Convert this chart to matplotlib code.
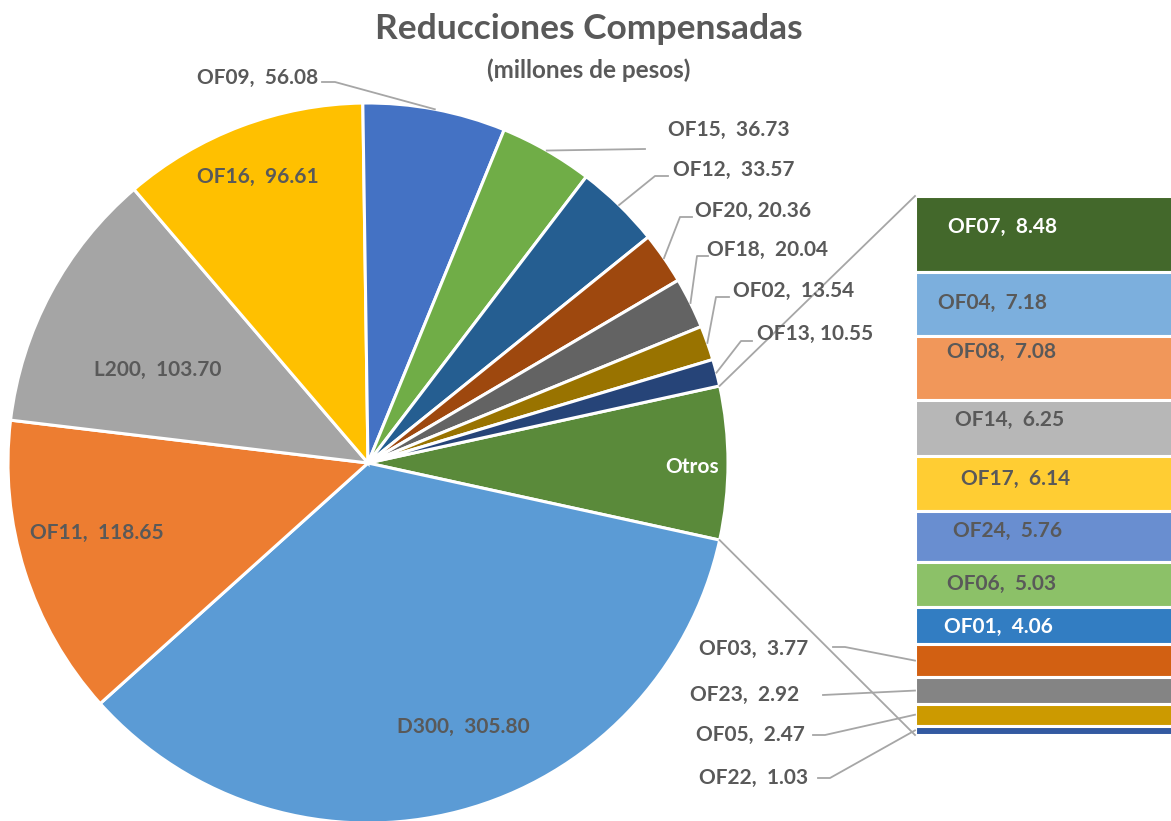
import matplotlib
matplotlib.use("Agg")
import matplotlib.pyplot as plt
import numpy as np

plt.rcParams["font.family"] = ["Lato", "DejaVu Sans"]

# datos (millones de pesos)
pie_names = ["D300", "OF11", "L200", "OF16", "OF09", "OF15", "OF12", "OF20", "OF18", "OF02", "OF13"]
pie_values = [305.80, 118.65, 103.70, 96.61, 56.08, 36.73, 33.57, 20.36, 20.04, 13.54, 10.55]
pie_colors = ["#5B9BD5", "#ED7D31", "#A5A5A5", "#FFC000", "#4472C4", "#70AD47",
              "#255E91", "#9E480E", "#636363", "#997300", "#264478"]

bar_names = ["OF07", "OF04", "OF08", "OF14", "OF17", "OF24", "OF06", "OF01", "OF03", "OF23", "OF05", "OF22"]
bar_values = [8.48, 7.18, 7.08, 6.25, 6.14, 5.76, 5.03, 4.06, 3.77, 2.92, 2.47, 1.03]
bar_colors = ["#43682B", "#7CAFDD", "#F1975A", "#B7B7B7", "#FFCD33", "#698ED0",
              "#8CC168", "#327DC2", "#D26012", "#848484", "#CC9A00", "#335AA1"]

otros = sum(bar_values)
otros_color = "#5A8A3A"

W, H = 1171, 821
GRAY = "#595959"
LINE = "#A6A6A6"

fig = plt.figure(figsize=(W / 100, H / 100), dpi=100)

# barra de "Otros" (eje aparte, debajo del eje principal)
bx0, by0, by1 = 915, 196, 735
ax2 = fig.add_axes([bx0 / W, (H - by1) / H, 1 - bx0 / W + 0.1, (by1 - by0) / H])
bottoms = np.concatenate([[0], np.cumsum(bar_values)[:-1]])
ax2.bar(0, bar_values, bottom=bottoms, width=1, color=bar_colors,
        edgecolor="white", linewidth=2.2)
ax2.set_xlim(-0.5, 0.5)
ax2.set_ylim(otros, 0)
ax2.axis("off")

ax = fig.add_axes([0, 0, 1, 1])
ax.set_zorder(3)

cx, cy, R = 368, H - 463, 360
vals = [otros] + pie_values
cols = [otros_color] + pie_colors
total = sum(vals)
start = otros / total * 180
wedges, _ = ax.pie(vals, colors=cols, startangle=start, counterclock=False,
                   center=(cx, cy), radius=R,
                   wedgeprops=dict(edgecolor="white", linewidth=2.2))
ax.set_xlim(0, W)
ax.set_ylim(0, H)
ax.set_aspect("equal")
ax.axis("off")


def to_main(axx, pt):
    return ax.transData.inverted().transform(axx.transData.transform(pt))


def wedge_pt(name, k=1.0):
    w = wedges[1 + pie_names.index(name)]
    a = np.deg2rad((w.theta1 + w.theta2) / 2)
    return cx + R * k * np.cos(a), cy + R * k * np.sin(a)


# lineas de conexion pastel -> barra
for ang, yb in [(start, 0), (-start, otros)]:
    a = np.deg2rad(ang)
    p0 = (cx + R * np.cos(a), cy + R * np.sin(a))
    p1 = to_main(ax2, (-0.5, yb))
    ax.plot([p0[0], p1[0]], [p0[1], p1[1]], color=LINE, lw=1.3, zorder=1)

txt = dict(fontsize=15, fontweight="bold", va="center", zorder=5)

# etiquetas dentro del pastel
ax.text(463, H - 727, "D300,  305.80", ha="center", color=GRAY, **txt)
ax.text(97, H - 533, "OF11,  118.65", ha="center", color=GRAY, **txt)
ax.text(158, H - 370, "L200,  103.70", ha="center", color=GRAY, **txt)
ax.text(258, H - 177, "OF16,  96.61", ha="center", color=GRAY, **txt)
ax.text(692, H - 467, "Otros", ha="center", color="white", **txt)

# etiquetas externas con guia: (nombre, texto, x, y, extremo guia, codo)
outer = [
    ("OF09", "OF09,  56.08", 197, 78, (322, 82), (335, 82)),
    ("OF15", "OF15,  36.73", 668, 130, (645, 149), None),
    ("OF12", "OF12,  33.57", 673, 170, (668, 176), (655, 176)),
    ("OF20", "OF20, 20.36", 695, 211, (692, 217), (680, 217)),
    ("OF18", "OF18,  20.04", 707, 250, (708, 256), (697, 256)),
    ("OF02", "OF02,  13.54", 733, 291, (729, 297), (716, 297)),
    ("OF13", "OF13, 10.55", 757, 334, (752, 341), (741, 341)),
]
for name, s, x, y, e, c in outer:
    ax.text(x, H - y, s, ha="left", color=GRAY, **txt)
    pts = [(e[0], H - e[1])]
    if c is not None:
        pts.append((c[0], H - c[1]))
    pts.append(wedge_pt(name))
    xs, ys = zip(*pts)
    ax.plot(xs, ys, color=LINE, lw=1.3, zorder=4)

# etiquetas de la barra
inner = [
    ("OF07,  8.48", 1003, 227, "white"),
    ("OF04,  7.18", 993, 303, GRAY),
    ("OF08,  7.08", 1002, 352, GRAY),
    ("OF14,  6.25", 1010, 420, GRAY),
    ("OF17,  6.14", 1016, 479, GRAY),
    ("OF24,  5.76", 1008, 531, GRAY),
    ("OF06,  5.03", 1002, 584, GRAY),
    ("OF01,  4.06", 998, 627, "white"),
]
for s, x, y, c in inner:
    ax.text(x, H - y, s, ha="center", color=c, **txt)

small = [
    ("OF03", "OF03,  3.77", 808, 649, (833, 647), (845, 647)),
    ("OF23", "OF23,  2.92", 799, 695, (823, 695), None),
    ("OF05", "OF05,  2.47", 805, 735, (813, 735), (825, 735)),
    ("OF22", "OF22,  1.03", 808, 778, (818, 778), (830, 778)),
]
for name, s, x, y, e, c in small:
    ax.text(x, H - y, s, ha="right", color=GRAY, **txt)
    i = bar_names.index(name)
    pts = [(e[0], H - e[1])]
    if c is not None:
        pts.append((c[0], H - c[1]))
    pts.append(tuple(to_main(ax2, (-0.5, bottoms[i] + bar_values[i] / 2))))
    xs, ys = zip(*pts)
    ax.plot(xs, ys, color=LINE, lw=1.3, zorder=4)

# titulo
ax.text(589, H - 29, "Reducciones Compensadas", ha="center", va="center",
        fontsize=25.5, fontweight="bold", color=GRAY)
ax.text(589, H - 70, "(millones de pesos)", ha="center", va="center",
        fontsize=17.5, fontweight="bold", color=GRAY)

fig.savefig("out.png", dpi=100, facecolor="white")
